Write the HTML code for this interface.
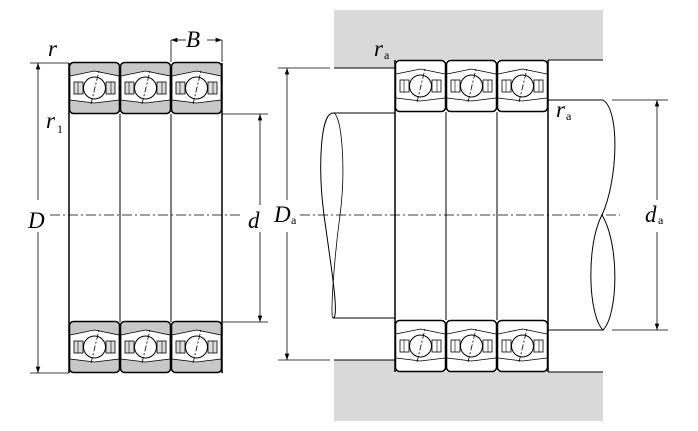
<!DOCTYPE html>
<html><head><meta charset="utf-8"><style>
html,body{margin:0;padding:0;background:#fff;width:698px;height:431px;overflow:hidden}
svg{display:block}
.t{font-family:"Liberation Serif","DejaVu Serif",serif;font-style:italic;font-size:23px;fill:#000}
.s{font-family:"Liberation Serif","DejaVu Serif",serif;font-size:12px;fill:#000}
</style></head><body>
<svg width="698" height="431" viewBox="0 0 698 431" xmlns="http://www.w3.org/2000/svg">
<defs>
<g id="ringw">
 <rect x="0.5" y="0.5" width="50" height="51" rx="4" fill="#fff" stroke="#000" stroke-width="1.5"/>
 <path d="M1 14 L25.5 9 L50 14" fill="none" stroke="#000" stroke-width="0.8"/>
 <path d="M1 38 L25.5 41 L50 38" fill="none" stroke="#000" stroke-width="0.8"/>
 <rect x="5" y="20" width="9" height="12" fill="#fff" stroke="#000" stroke-width="0.8"/>
 <rect x="37" y="20" width="9" height="12" fill="#fff" stroke="#000" stroke-width="0.8"/>
 <line x1="9" y1="20" x2="9" y2="32" stroke="#000" stroke-width="0.6"/>
 <line x1="42" y1="20" x2="42" y2="32" stroke="#000" stroke-width="0.6"/>
 <circle cx="25.5" cy="26" r="11" fill="#fff" stroke="#000" stroke-width="1"/>
 <line x1="22" y1="42" x2="30" y2="9" stroke="#000" stroke-width="0.8" stroke-dasharray="6,2,2,2"/>
</g>
<g id="ringg">
 <rect x="0.5" y="0.5" width="50" height="51" rx="4" fill="#c8c8c8" stroke="#000" stroke-width="1.5"/>
 <path d="M1 14 L25.5 9 L50 14 L50 38 L25.5 41 L1 38Z" fill="#fff" stroke="#000" stroke-width="0.8"/>
 <rect x="5" y="20" width="9" height="12" fill="#ddd" stroke="#000" stroke-width="0.8"/>
 <rect x="37" y="20" width="9" height="12" fill="#ddd" stroke="#000" stroke-width="0.8"/>
 <line x1="9" y1="20" x2="9" y2="32" stroke="#000" stroke-width="0.6"/>
 <line x1="42" y1="20" x2="42" y2="32" stroke="#000" stroke-width="0.6"/>
 <circle cx="25.5" cy="26" r="11" fill="#fff" stroke="#000" stroke-width="1"/>
 <line x1="22" y1="42" x2="30" y2="9" stroke="#000" stroke-width="0.8" stroke-dasharray="6,2,2,2"/>
</g>
<marker id="ar" viewBox="0 0 10 10" refX="10" refY="5" markerWidth="8" markerHeight="8" orient="auto-start-reverse"><path d="M0 1.5 L10 5 L0 8.5Z" fill="#000"/></marker>
</defs>

<g stroke="#000" fill="none">
 <line x1="69" y1="63" x2="69" y2="373" stroke-width="1.5"/>
 <line x1="222" y1="63" x2="222" y2="373" stroke-width="1.5"/>
 <line x1="120" y1="114" x2="120" y2="322" stroke-width="1"/>
 <line x1="171" y1="114" x2="171" y2="322" stroke-width="1"/>
</g>
<use href="#ringg" x="69" y="62"/><use href="#ringg" x="120" y="62"/><use href="#ringg" x="171" y="62"/>
<use href="#ringg" x="69" y="321"/><use href="#ringg" x="120" y="321"/><use href="#ringg" x="171" y="321"/>
<line x1="50" y1="215" x2="240" y2="215" stroke="#000" stroke-width="0.7" stroke-dasharray="10,3,2,3"/>
<g stroke="#000" stroke-width="0.8">
 <line x1="30" y1="63" x2="69" y2="63"/><line x1="30" y1="373" x2="69" y2="373"/>
 <line x1="38" y1="63" x2="38" y2="200" marker-start="url(#ar)"/>
 <line x1="38" y1="232" x2="38" y2="373" marker-end="url(#ar)"/>
 <line x1="222" y1="114" x2="268" y2="114"/><line x1="222" y1="322" x2="268" y2="322"/>
 <line x1="260" y1="114" x2="260" y2="205" marker-start="url(#ar)"/>
 <line x1="260" y1="232" x2="260" y2="322" marker-end="url(#ar)"/>
 <line x1="171" y1="40" x2="171" y2="62"/><line x1="222" y1="40" x2="222" y2="62"/>
 <line x1="171" y1="40" x2="186" y2="40" marker-start="url(#ar)"/>
 <line x1="207" y1="40" x2="222" y2="40" marker-end="url(#ar)"/>
</g>

<path d="M334 10 H603 V60 H395 V68 H334Z" fill="#d9d9d9"/>
<path d="M334 421 H603 V372 H395 V360 H334Z" fill="#d9d9d9"/>
<g stroke="#000" stroke-width="1" fill="none">
 <line x1="334" y1="68" x2="395" y2="68"/><line x1="548" y1="60" x2="603" y2="60"/>
 <line x1="334" y1="360" x2="395" y2="360"/><line x1="548" y1="372" x2="603" y2="372"/>
 <line x1="333" y1="113" x2="395" y2="113"/><line x1="333" y1="318" x2="395" y2="318"/>
 <path d="M333 113 C320 113 318 170 324 215 C330 260 340 318 333 318"/>
 <path d="M333 113 C342 113 346 170 340 215 C334 260 330 318 333 318" stroke-width="0.8"/>
 <line x1="548" y1="100" x2="603" y2="100"/><line x1="548" y1="330" x2="603" y2="330"/>
 <path d="M603 100 C620 110 618 180 602 215"/>
 <path d="M602 215 C620 245 618 315 603 330 C588 315 586 245 602 215"/>
 <line x1="395" y1="60" x2="395" y2="372" stroke-width="1.5"/>
 <line x1="548" y1="60" x2="548" y2="372" stroke-width="1.5"/>
 <line x1="446" y1="112" x2="446" y2="320"/>
 <line x1="497" y1="112" x2="497" y2="320"/>
</g>
<use href="#ringw" x="395" y="60"/><use href="#ringw" x="446" y="60"/><use href="#ringw" x="497" y="60"/>
<use href="#ringw" x="395" y="320"/><use href="#ringw" x="446" y="320"/><use href="#ringw" x="497" y="320"/>
<line x1="300" y1="215" x2="620" y2="215" stroke="#000" stroke-width="0.7" stroke-dasharray="10,3,2,3"/>
<g stroke="#000" stroke-width="0.8">
 <line x1="278" y1="68" x2="330" y2="68"/><line x1="278" y1="360" x2="330" y2="360"/>
 <line x1="287" y1="68" x2="287" y2="200" marker-start="url(#ar)"/>
 <line x1="287" y1="232" x2="287" y2="360" marker-end="url(#ar)"/>
 <line x1="612" y1="100" x2="668" y2="100"/><line x1="612" y1="330" x2="668" y2="330"/>
 <line x1="657" y1="100" x2="657" y2="200" marker-start="url(#ar)"/>
 <line x1="657" y1="232" x2="657" y2="330" marker-end="url(#ar)"/>
</g>

<text class="t" x="28" y="228">D</text>
<text class="t" x="248" y="228">d</text>
<text class="t" x="186" y="47">B</text>
<text class="t" x="48" y="56">r</text>
<text class="t" x="46" y="128">r</text>
<text class="t" x="274" y="222">D</text>
<text class="t" x="645" y="222">d</text>
<text class="t" x="374" y="56">r</text>
<text class="t" x="556" y="117">r</text>
<text class="s" x="57" y="133">1</text>
<text class="s" x="291" y="224">a</text>
<text class="s" x="658" y="224">a</text>
<text class="s" x="384" y="59">a</text>
<text class="s" x="566" y="120">a</text>
</svg>
</body></html>
